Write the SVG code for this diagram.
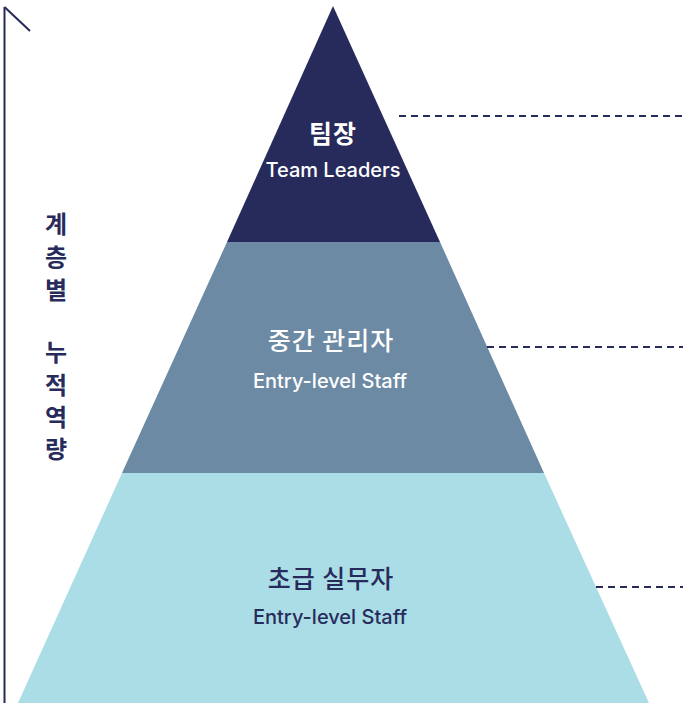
<svg xmlns="http://www.w3.org/2000/svg" width="683" height="709" viewBox="0 0 683 709">
<style>
.ko{font-family:"Noto Sans CJK KR","Noto Sans",sans-serif;text-anchor:middle;font-size:25px;letter-spacing:1px}
.en{font-family:Inter,"Noto Sans",sans-serif;text-anchor:middle;font-weight:500;font-size:20px}
.dash{stroke:#272B5B;stroke-width:2;stroke-dasharray:7 5;fill:none}
</style>
<rect width="683" height="709" fill="#fff"/>
<g id="axis">
<line x1="4.5" y1="7" x2="4.5" y2="703" stroke="#272B5B" stroke-width="2"/>
<line x1="4.5" y1="7" x2="30" y2="31" stroke="#272B5B" stroke-width="2"/>
<text font-family="'Noto Sans CJK KR','Noto Sans',sans-serif" text-anchor="middle" font-size="24" font-weight="700" fill="#272B5B"><tspan x="56" y="233">계</tspan><tspan x="56" y="266">층</tspan><tspan x="56" y="299">별</tspan><tspan x="56" y="361">누</tspan><tspan x="56" y="394">적</tspan><tspan x="56" y="426">역</tspan><tspan x="56" y="458">량</tspan></text>
</g>
<g id="top">
<polygon points="333,6 440,242 227,242" fill="#272B5B"/>
<text class="ko" x="333" y="143" font-size="26" font-weight="700" fill="#fff">팀장</text>
<text class="en" x="333" y="177" font-weight="600" fill="#fff">Team Leaders</text>
</g>
<g id="middle">
<polygon points="227,242 440,242 544,473 122,473" fill="#6C8AA4"/>
<text class="ko" x="331" y="350" font-weight="500" fill="#fff">중간 관리자</text>
<text class="en" x="330" y="388" fill="#fff">Entry-level Staff</text>
</g>
<g id="bottom">
<polygon points="122,473 544,473 649,703 18,703" fill="#ABDDE6"/>
<text class="ko" x="331" y="588" font-weight="500" fill="#272B5B">초급 실무자</text>
<text class="en" x="330" y="624" fill="#272B5B">Entry-level Staff</text>
</g>
<g id="connectors">
<line class="dash" x1="399" y1="116" x2="683" y2="116"/>
<line class="dash" x1="487" y1="347" x2="683" y2="347"/>
<line class="dash" x1="596" y1="587" x2="683" y2="587"/>
</g>
</svg>
